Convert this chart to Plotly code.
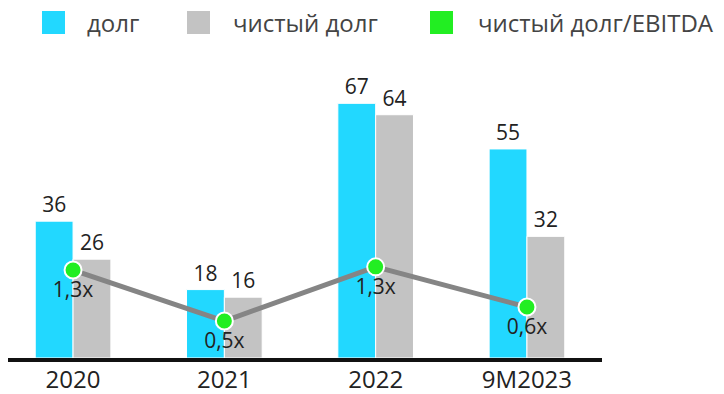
import plotly.graph_objects as go

categories = ["2020", "2021", "2022", "9M2023"]
debt = [36, 18, 67, 55]
net_debt = [26, 16, 64, 32]
ratio = [1.30, 0.50, 1.35, 0.72]
ratio_labels = ["1,3x", "0,5x", "1,3x", "0,6x"]
legend_names = ["долг", "чистый долг", "чистый долг/EBITDA"]

BLUE = "#22D8FF"
GREY = "#C3C3C3"
GREEN = "#22EE22"
LINE = "#858585"
FONT = "Open Sans"

W, H = 724, 394
ML, MR, MT, MB = 8, 122, 60, 36
PW, PH = W - ML - MR, H - MT - MB

def px(x):
    return (x - ML) / PW

def py(y):
    return (H - MB - y) / PH

fig = go.Figure()
fig.add_trace(go.Bar(
    x=categories, y=debt, name=legend_names[0], marker=dict(color=BLUE, line=dict(color="white", width=1)),
    text=debt, textposition="outside", textfont=dict(size=21, color="#222", family=FONT), cliponaxis=False,
))
fig.add_trace(go.Bar(
    x=categories, y=net_debt, name=legend_names[1], marker=dict(color=GREY, line=dict(color="white", width=1)),
    text=net_debt, textposition="outside", textfont=dict(size=21, color="#222", family=FONT), cliponaxis=False,
))
fig.add_trace(go.Scatter(
    x=categories, y=ratio, name=legend_names[2], yaxis="y2", mode="lines+markers+text",
    line=dict(color=LINE, width=5),
    marker=dict(color=GREEN, size=17, line=dict(color="white", width=2)),
    text=ratio_labels, textposition="bottom center",
    textfont=dict(size=21, color="#222", family=FONT), cliponaxis=False,
))

# manual legend
shapes = []
annotations = []
legend_items = [(42, BLUE, 85), (187, GREY, 231), (430, GREEN, 476)]
for (sx, col, tx), name in zip(legend_items, legend_names):
    shapes.append(dict(type="rect", xref="paper", yref="paper",
                       x0=px(sx), x1=px(sx + 23), y0=py(34), y1=py(11),
                       fillcolor=col, line=dict(width=0)))
    annotations.append(dict(xref="paper", yref="paper", x=px(tx), y=py(22),
                            xanchor="left", yanchor="middle", text=name, showarrow=False,
                            font=dict(size=24, color="#444", family=FONT)))

fig.update_layout(
    width=W, height=H,
    margin=dict(l=ML, r=MR, t=MT, b=MB, autoexpand=False),
    paper_bgcolor="white", plot_bgcolor="white",
    barmode="group", bargap=0.5, bargroupgap=0,
    showlegend=False,
    font=dict(family=FONT, color="#222"),
    xaxis=dict(range=[-0.43, 3.496], showline=True, linecolor="#111", linewidth=4,
               showgrid=False, ticks="", automargin=False, ticklabelstandoff=-3,
               tickfont=dict(size=24, color="#222", family=FONT)),
    yaxis=dict(range=[0, 78.4], visible=False, showgrid=False, automargin=False),
    yaxis2=dict(range=[-0.08, 4.595], overlaying="y", visible=False, showgrid=False, automargin=False),
    shapes=shapes, annotations=annotations,
)

fig.write_html("out.html")
